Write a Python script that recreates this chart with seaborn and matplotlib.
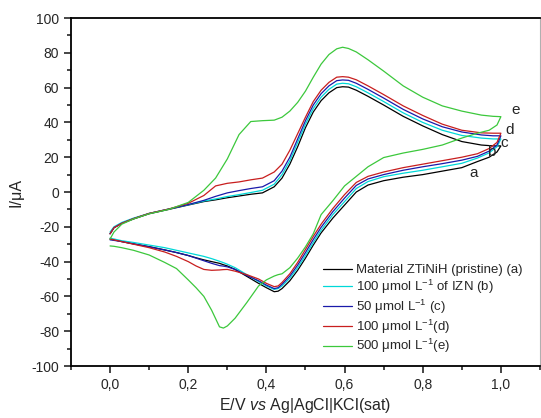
import numpy as np
import pandas as pd
import seaborn as sns
import matplotlib.pyplot as plt
from matplotlib.ticker import MultipleLocator, FixedLocator, FuncFormatter

sns.set_style("ticks")
plt.rcParams['font.family'] = ['Liberation Sans', 'DejaVu Sans']
plt.rcParams['mathtext.fontset'] = 'custom'
plt.rcParams['mathtext.rm'] = 'Liberation Sans'
plt.rcParams['mathtext.it'] = 'Liberation Sans:italic'
plt.rcParams['axes.unicode_minus'] = False

# potencial (V): barrido anodico 0 -> 1 y barrido catodico 1 -> 0
E_fwd = [0.00, 0.01, 0.03, 0.06, 0.10, 0.15, 0.20, 0.24, 0.27, 0.30, 0.33, 0.36,
         0.39, 0.42, 0.44, 0.46, 0.48, 0.50, 0.52, 0.54, 0.56, 0.58, 0.595, 0.61,
         0.63, 0.66, 0.70, 0.75, 0.80, 0.85, 0.90, 0.95, 0.98, 1.00]
E_rev = [1.00, 0.99, 0.97, 0.94, 0.90, 0.85, 0.80, 0.75, 0.70, 0.66, 0.63, 0.60,
         0.57, 0.54, 0.52, 0.50, 0.48, 0.46, 0.44, 0.43, 0.42, 0.40, 0.38, 0.35,
         0.32, 0.30, 0.29, 0.28, 0.26, 0.24, 0.22, 0.20, 0.17, 0.14, 0.10, 0.06,
         0.03, 0.01, 0.00]

# corriente (uA)
a_fwd = [-24, -20.5, -18, -15.5, -12.5, -10, -7.5, -5.5, -4.5, -3.3, -2.3, -1.3,
         -0.5, 3, 8, 16, 26, 37, 46, 52.5, 57, 60, 60.5, 60.3,
         58.5, 55, 50, 43.5, 38, 33, 29, 27, 26.5, 26.5]
a_rev = [26.5, 23, 20, 17.5, 14, 12, 10, 8.5, 6.5, 4, 0, -7.5,
         -15, -23.5, -30.5, -38, -45, -51, -55.5, -57, -57.3, -55, -52.5, -48.5,
         -44.5, -42.5, -41.8, -41, -40, -39, -37.8, -36.5, -34.8, -33.3, -31.4, -29.8,
         -28.5, -27.5, -27]

b_fwd = [-23, -20, -17.5, -15, -12.3, -9.8, -7.3, -5.2, -4, -2.6, -1.5, -0.3,
         1, 4.5, 10, 18, 28.5, 39, 48, 54.5, 59, 62, 62.5, 62.2,
         60.5, 57, 52, 45.5, 40, 35.5, 32.5, 31, 30.5, 30.5]
b_rev = [30.5, 26, 22.5, 19.5, 16.5, 14.5, 12.5, 10.8, 8.8, 6, 2, -5.5,
         -13, -22, -29, -36.5, -43.5, -49.5, -54, -55.5, -56, -54, -51.5, -47.5,
         -43.5, -41.5, -40.6, -39.8, -38.3, -37, -36, -35, -33.5, -32, -30.5, -29,
         -28, -27, -26.5]

c_fwd = [-24, -20.5, -18, -15.3, -12.3, -9.8, -7.2, -4.8, -2.5, -0.5, 0.8, 2,
         3, 6.5, 12, 20, 30.5, 41, 50, 56.5, 61, 64, 64.4, 64.2,
         62.5, 59, 54, 47.5, 42, 37.5, 34.5, 32.8, 32.3, 32.3]
c_rev = [32.3, 27, 23.5, 20.5, 18.3, 16.3, 14.5, 12.5, 10, 7.5, 3.8, -3.5,
         -11.3, -20.3, -27.3, -34.8, -42, -48.3, -53, -55, -55.5, -53.5, -51, -48,
         -44.5, -43, -42.6, -42.3, -41, -39.5, -38, -36.5, -34.8, -33.3, -31.5, -29.8,
         -28.5, -27.8, -27.5]

d_fwd = [-24, -20.5, -18, -15.3, -12.3, -9.8, -6.5, -2, 3.5, 5, 5.8, 7,
         8, 11.5, 16, 24, 33.5, 43, 52, 58.5, 63, 66, 66.3, 66,
         64.5, 61, 56, 49.5, 44, 39, 35.5, 34, 33.8, 33.8]
d_rev = [33.8, 28.5, 25, 22, 20, 18, 16, 14, 11.5, 9, 5.5, -1.5,
         -9.5, -18.5, -25.5, -33, -40.5, -47, -52, -54, -54.4, -52.5, -50, -47.5,
         -45.5, -44.5, -44.6, -44.8, -45, -44.5, -42.5, -40, -37, -34.5, -32, -30,
         -28.5, -27.5, -27]

e_fwd = [-27, -23, -18.5, -15.5, -12.5, -10, -6, 1, 8, 19, 33, 40.5,
         41, 41.3, 43, 46.5, 51.5, 58, 66, 73.5, 79, 82.3, 83.2, 82.5,
         80.5, 76, 69.5, 61, 54.5, 49.5, 46.5, 44.2, 43.5, 43.3]
e_rev = [43.3, 38.5, 35.5, 33.8, 31, 27, 24.5, 22.4, 19.8, 14.5, 9, 3.5,
         -5, -13, -24, -31.5, -38, -43.5, -47, -47.5, -48.3, -50.5, -54, -63.5,
         -72.5, -77, -78.2, -77.5, -68, -60, -55, -50.5, -44, -40.5, -36.2, -33.5,
         -32, -31.2, -31]

labels = ['Material ZTiNiH (pristine) (a)',
          '100 μmol L$^{-1}$ of IZN (b)',
          '50 μmol L$^{-1}$ (c)',
          '100 μmol L$^{-1}$(d)',
          '500 μmol L$^{-1}$(e)']
colors = ['#000000', '#00d8d8', '#1a1aaa', '#c81e1e', '#3cc83c']
curve_letters = ['a', 'b', 'c', 'd', 'e']
letter_x = [0.931, 0.976, 1.008, 1.022, 1.037]
letter_y = [11.1, 23.2, 28.3, 35.6, 47.1]
x_major = [0.0, 0.2, 0.4, 0.6, 0.8, 1.0]

fwd = [a_fwd, b_fwd, c_fwd, d_fwd, e_fwd]
rev = [a_rev, b_rev, c_rev, d_rev, e_rev]
frames = []
for lab, f, r in zip(labels, fwd, rev):
    frames.append(pd.DataFrame({'E': E_fwd + E_rev, 'I': f + r, 'curva': lab}))
df = pd.concat(frames, ignore_index=True)

fig = plt.figure(figsize=(5.41, 4.18), dpi=100)
ax = fig.add_axes([0.1312, 0.1244, 0.8669, 0.8325])

sns.lineplot(data=df, x='E', y='I', hue='curva', palette=colors, sort=False,
             estimator=None, linewidth=0.9, ax=ax)

for t, x, y in zip(curve_letters, letter_x, letter_y):
    ax.text(x, y, t, fontsize=11, ha='center', va='center')

ax.set_xlim(-0.1, 1.1)
ax.set_ylim(-100, 100)
ax.xaxis.set_major_locator(FixedLocator(x_major))
ax.xaxis.set_minor_locator(MultipleLocator(0.1))
ax.xaxis.set_major_formatter(FuncFormatter(lambda v, p: f"{v:.1f}".replace('.', ',')))
ax.yaxis.set_major_locator(MultipleLocator(20))
ax.yaxis.set_minor_locator(MultipleLocator(10))
ax.tick_params(which='major', direction='out', length=5, width=1.2, labelsize=10)
ax.tick_params(which='minor', direction='out', length=3, width=1.2)

ax.set_xlabel('E/V $\\it{vs}$ Ag|AgCl|KCl(sat)', fontsize=11.5, labelpad=3)
ax.set_ylabel('I/μA', fontsize=11.5, labelpad=6)

for s in ['left', 'bottom', 'top']:
    ax.spines[s].set_linewidth(1.3)
    ax.spines[s].set_color('black')
ax.spines['right'].set_linewidth(0.8)
ax.spines['right'].set_color('#b0b0b0')

ax.legend(loc='upper left', bbox_to_anchor=(0.537, 0.293), borderaxespad=0,
          borderpad=0, frameon=False, fontsize=9.5, handlelength=2.2,
          handletextpad=0.3, labelspacing=0.12)

fig.savefig('out.png', dpi=100)
